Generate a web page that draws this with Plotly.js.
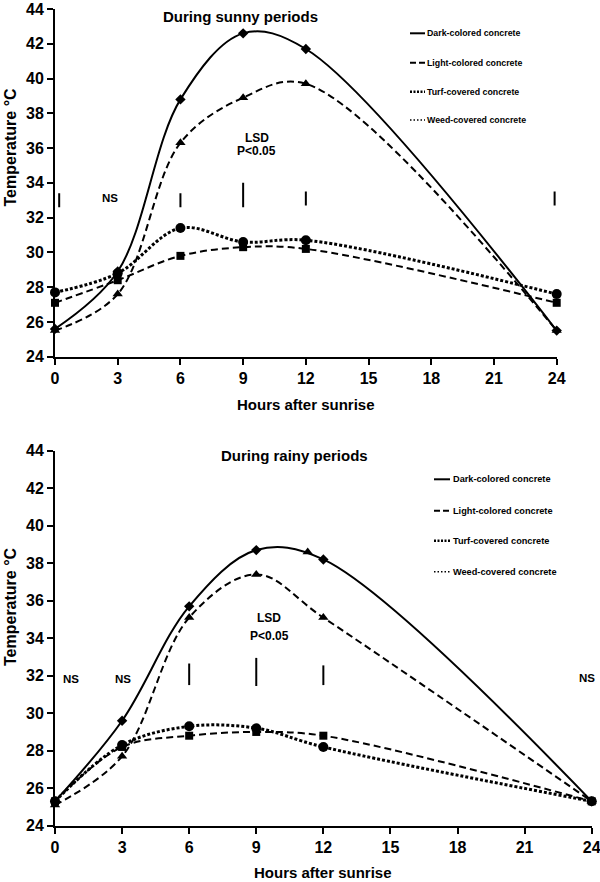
<!DOCTYPE html>
<html>
<head>
<meta charset="utf-8">
<script src="https://cdn.plot.ly/plotly-3.0.1.min.js"></script>
<style>html,body{margin:0;padding:0;background:#fff;}#chart{width:600px;height:882px;}</style>
</head>
<body>
<div id="chart"></div>
<script>
// ---- data ----
var hours = [0, 3, 6, 9, 12, 24];
var seriesNames = ['Dark-colored concrete', 'Light-colored concrete', 'Turf-covered concrete', 'Weed-covered concrete'];

var sunnyDark  = [25.6, 28.9, 38.8, 42.6, 41.7, 25.5];
var sunnyLight = [25.5, 27.6, 36.3, 38.9, 39.7, 25.5];
var sunnyTurf  = [27.7, 28.8, 31.4, 30.6, 30.7, 27.6];
var sunnyWeed  = [27.1, 28.4, 29.8, 30.3, 30.2, 27.1];

var rainyDark  = [25.3, 29.6, 35.7, 38.7, 38.2, 25.3];
var rainyLight = [25.1, 27.7, 35.1, 37.4, 35.1, 25.3];
var rainyTurf  = [25.3, 28.3, 29.3, 29.2, 28.2, 25.3];
var rainyWeed  = [25.3, 28.2, 28.8, 29.0, 28.8, 25.3];
var rainyStrayX = [11.3];
var rainyStrayY = [38.6];

var sunnyLsdX    = [0.2, 6, 9, 12, 23.9];
var sunnyLsdLow  = [32.6, 32.6, 32.6, 32.7, 32.7];
var sunnyLsdHigh = [33.4, 33.4, 34.0, 33.5, 33.5];

var rainyLsdX    = [6, 9, 12];
var rainyLsdLow  = [31.5, 31.45, 31.5];
var rainyLsdHigh = [32.65, 32.95, 32.55];

var xTicks = [0, 3, 6, 9, 12, 15, 18, 21, 24];
var yTicks = [24, 26, 28, 30, 32, 34, 36, 38, 40, 42, 44];

// ---- styles ----
var FONT = 'Liberation Sans, Arial, sans-serif';
var styles = [
  {dash: 'solid', width: 2, symbol: 'diamond', size: 8},
  {dash: '7px,4px', width: 2, symbol: 'triangle-up', size: 9},
  {dash: '3px,2px', width: 3, symbol: 'circle', size: 10},
  {dash: '7px,4px', width: 2, symbol: 'square', size: 8}
];

function curve(x, y, st, xa, ya) {
  return {
    x: x, y: y, xaxis: xa, yaxis: ya, type: 'scatter', mode: 'lines+markers',
    line: {color: '#000', width: st.width, dash: st.dash, shape: 'spline', smoothing: 1},
    marker: {color: '#000', symbol: st.symbol, size: st.size},
    cliponaxis: false, showlegend: false, hoverinfo: 'x+y'
  };
}
function lsd(xs, lo, hi, xa, ya) {
  var x = [], y = [];
  for (var i = 0; i < xs.length; i++) {
    x.push(xs[i], xs[i], null);
    y.push(lo[i], hi[i], null);
  }
  return {x: x, y: y, xaxis: xa, yaxis: ya, type: 'scatter', mode: 'lines',
    line: {color: '#000', width: 2}, showlegend: false, hoverinfo: 'skip'};
}

var data = [
  curve(hours, sunnyWeed, styles[3], 'x', 'y'),
  curve(hours, sunnyTurf, styles[2], 'x', 'y'),
  curve(hours, sunnyLight, styles[1], 'x', 'y'),
  curve(hours, sunnyDark, styles[0], 'x', 'y'),
  lsd(sunnyLsdX, sunnyLsdLow, sunnyLsdHigh, 'x', 'y'),
  curve(hours, rainyWeed, styles[3], 'x2', 'y2'),
  curve(hours, rainyTurf, styles[2], 'x2', 'y2'),
  curve(hours, rainyLight, styles[1], 'x2', 'y2'),
  curve(hours, rainyDark, styles[0], 'x2', 'y2'),
  {x: rainyStrayX, y: rainyStrayY, xaxis: 'x2', yaxis: 'y2', type: 'scatter', mode: 'markers',
   marker: {color: '#000', symbol: 'triangle-up', size: 9}, showlegend: false, hoverinfo: 'x+y'},
  lsd(rainyLsdX, rainyLsdLow, rainyLsdHigh, 'x2', 'y2')
];

function xax(domain, anchor) {
  return {domain: domain, anchor: anchor, range: [0, 24], tickvals: xTicks, ticktext: xTicks.map(String),
    showgrid: false, zeroline: false, showline: true, linecolor: '#000', linewidth: 2,
    ticks: 'outside', ticklen: 6, tickwidth: 2, tickcolor: '#000', ticklabeloverflow: 'allow',
    tickfont: {family: FONT, size: 16, color: '#000', weight: 'bold'}, fixedrange: true};
}
function yax(domain, anchor) {
  return {domain: domain, anchor: anchor, range: [24, 44], tickvals: yTicks, ticktext: yTicks.map(String),
    showgrid: false, zeroline: false, showline: true, linecolor: '#000', linewidth: 2,
    ticks: 'outside', ticklen: 6, tickwidth: 2, tickcolor: '#000', ticklabeloverflow: 'allow',
    tickfont: {family: FONT, size: 16, color: '#000', weight: 'bold'}, fixedrange: true};
}

var W = 600, H = 882;
function px(v) { return v / W; }
function py(v) { return 1 - v / H; }

var annotations = [];
var shapes = [];
function txt(x, y, t, size, xref, yref, extra) {
  var a = {x: x, y: y, xref: xref, yref: yref, text: t, showarrow: false,
    font: {family: FONT, size: size, color: '#000', weight: 'bold'}, xanchor: 'center', yanchor: 'middle'};
  for (var k in extra) a[k] = extra[k];
  annotations.push(a);
}
// panel texts
txt(8.85, 43.55, 'During sunny periods', 15, 'x', 'y');
txt(2.63, 33.12, 'NS', 11.5, 'x', 'y');
txt(9.65, 36.6, 'LSD', 12, 'x', 'y');
txt(9.65, 35.83, 'P&lt;0.05', 12, 'x', 'y');
txt(10.73, 43.77, 'During rainy periods', 15, 'x2', 'y2');
txt(0.72, 31.82, 'NS', 11.5, 'x2', 'y2');
txt(3.03, 31.82, 'NS', 11.5, 'x2', 'y2');
txt(23.78, 31.86, 'NS', 11.5, 'x2', 'y2');
txt(9.59, 35.06, 'LSD', 12, 'x2', 'y2');
txt(9.59, 34.12, 'P&lt;0.05', 12, 'x2', 'y2');
// axis titles
txt(px(306), py(404), 'Hours after sunrise', 15, 'paper', 'paper');
txt(px(323.3), py(882), 'Hours after sunrise', 15, 'paper', 'paper', {yanchor: 'bottom', borderpad: 0});
txt(px(10), py(147.5), 'Temperature °C', 16, 'paper', 'paper', {textangle: -90});
txt(px(10), py(607), 'Temperature °C', 16, 'paper', 'paper', {textangle: -90});

// legends
function legend(x0, x1, tx, rows, size) {
  for (var i = 0; i < seriesNames.length; i++) {
    var lw = [2, 2, 2.5, 1.5][i];
    var dash = ['solid', '6px,3px', '2px,1.5px', '1.5px,2px'][i];
    shapes.push({type: 'line', xref: 'paper', yref: 'paper', x0: px(x0), x1: px(x1), y0: py(rows[i]), y1: py(rows[i]),
      line: {color: '#000', width: lw, dash: dash}});
    txt(px(tx), py(rows[i]), seriesNames[i], size, 'paper', 'paper', {xanchor: 'left'});
  }
}
legend(410, 425, 425.5, [33.3, 62.7, 91.7, 120], 8.8);
legend(434, 450, 451.5, [479.3, 510.7, 540.7, 571.7], 9.2);

var layout = {
  width: W, height: H,
  margin: {l: 0, r: 0, t: 0, b: 0},
  paper_bgcolor: '#fff', plot_bgcolor: '#fff',
  showlegend: false,
  xaxis: xax([55 / W, 556.7 / W], 'y'),
  yaxis: yax([1 - 356.7 / H, 1 - 9 / H], 'x'),
  xaxis2: xax([55 / W, 591.7 / W], 'y2'),
  yaxis2: yax([1 - 825.7 / H, 1 - 450.7 / H], 'x2'),
  annotations: annotations,
  shapes: shapes
};

Plotly.newPlot('chart', data, layout, {displayModeBar: false, staticPlot: true});
</script>
</body>
</html>
